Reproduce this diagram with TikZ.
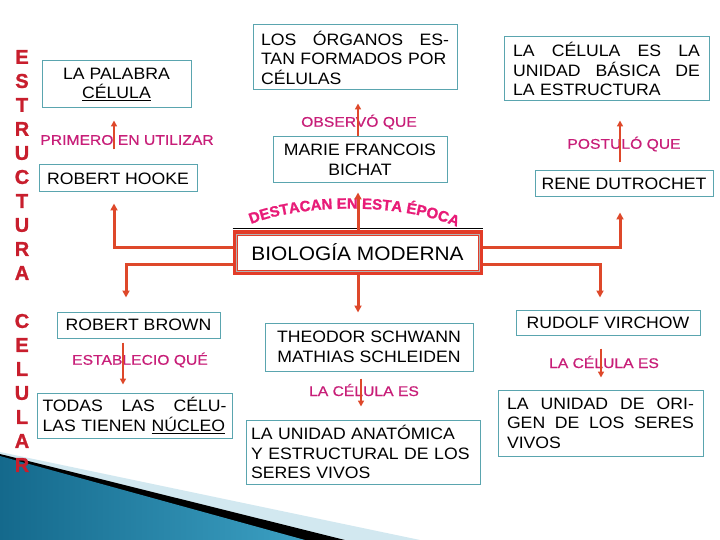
\documentclass[tikz,border=0pt]{standalone}
\usepackage{fontspec}
\setmainfont{Liberation Sans}
\newfontfamily\boxfont[FakeStretch=1.07]{Liberation Sans}
\newfontfamily\pinkfont[FakeStretch=1.12,FakeBold=0.5]{Liberation Sans}
\newfontfamily\destfont[FakeBold=1.2]{Liberation Sans}
\newfontfamily\letfont[FakeBold=1.2]{Liberation Sans}
\usetikzlibrary{arrows.meta,decorations.text,calc}
\definecolor{boxc}{RGB}{90,165,175}
\definecolor{arrc}{RGB}{222,72,42}
\definecolor{bioc}{RGB}{226,60,40}
\definecolor{pinkc}{RGB}{200,30,120}
\definecolor{destc}{RGB}{232,28,120}
\definecolor{letc}{RGB}{200,30,45}
\definecolor{tealA}{RGB}{20,105,140}
\definecolor{tealB}{RGB}{60,160,195}
\definecolor{swlight}{RGB}{210,232,240}
\newcommand\jline[2]{\makebox[#1][l]{#2}}
\begin{document}
\begin{tikzpicture}[x=1pt,y=-1pt,
  bx/.style={draw=boxc, line width=1pt, fill=white, inner sep=0pt,
    font=\boxfont\fontsize{16.5}{19.5}\selectfont},
  lab/.style={text=pinkc, inner sep=0pt, font=\pinkfont\fontsize{14}{16}\selectfont},
  letsty/.style={text=letc, inner sep=0pt, font=\letfont\bfseries\fontsize{20}{21}\selectfont},
  conn/.style={draw=arrc, line width=3pt, -{Triangle[length=7pt,width=7pt]}},
  arr/.style={draw=arrc, line width=2pt, -{Triangle[length=6pt,width=6pt]}}]
\useasboundingbox (0,0) rectangle (720,540);
\fill[white] (0,0) rectangle (720,540);
% bottom-left swoosh
\fill[swlight] (0,452) -- (420,540) -- (0,540) -- cycle;
\fill[black] (0,454) -- (345,540) -- (0,540) -- cycle;
\fill[left color=tealA, right color=tealB] (0,456) -- (305,540) -- (0,540) -- cycle;

% vertical title letters
\foreach \ch [count=\i from 0] in {E,S,T,R,U,C,T,U,R,A}
  \node[letsty] (la\i) at (22,{57+24*\i}) {\ch};
\foreach \ch [count=\i from 0] in {C,E,L,U,L,A,R}
  \node[letsty] (lb\i) at (22,{321+24*\i}) {\ch};

% boxes
\node[bx, minimum width=149pt, minimum height=47pt, align=center] (palabra) at (116.5,84.5) {LA PALABRA\\\underline{CÉLULA}};
\node[bx, minimum width=158pt, minimum height=27pt] (hooke) at (118,178.5) {ROBERT HOOKE};
\node[bx, minimum width=163pt, minimum height=26pt] (brown) at (138.5,325) {ROBERT BROWN};
\node[bx, minimum width=195pt, minimum height=45pt, text width=184pt, align=left] (todas) at (134.5,415.5)
  {\jline{184pt}{TODAS\hfill LAS\hfill CÉLU-}\\\jline{184pt}{LAS TIENEN \underline{NÚCLEO}}};
\node[bx, minimum width=204pt, minimum height=65pt, text width=188pt, align=left] (organos) at (355,57.5)
  {\jline{188pt}{LOS\hfill ÓRGANOS\hfill ES-}\\\jline{188pt}{TAN FORMADOS POR}\\CÉLULAS};
\node[bx, minimum width=174pt, minimum height=46pt, align=center] (bichat) at (360,160) {MARIE FRANCOIS\\BICHAT};
\node[bx, minimum width=205pt, minimum height=64pt, text width=187pt, align=left] (celbox) at (606.5,69)
  {\jline{187pt}{LA\hfill CÉLULA\hfill ES\hfill LA}\\\jline{187pt}{UNIDAD\hfill BÁSICA\hfill DE}\\LA ESTRUCTURA};
\node[bx, minimum width=178pt, minimum height=26pt] (rene) at (624,184) {RENE DUTROCHET};
\node[bx, minimum width=208pt, minimum height=48pt, align=center] (theodor) at (369,347) {THEODOR SCHWANN\\MATHIAS SCHLEIDEN};
\node[bx, minimum width=234pt, minimum height=64pt, text width=224pt, align=left] (anat) at (363,452)
  {LA UNIDAD ANATÓMICA\\Y ESTRUCTURAL DE LOS\\SERES VIVOS};
\node[bx, minimum width=184pt, minimum height=25pt] (virchow) at (608,322.5) {RUDOLF VIRCHOW};
\node[bx, minimum width=205pt, minimum height=66pt, text width=187pt, align=left] (origen) at (600.5,423)
  {\jline{187pt}{LA\hfill UNIDAD\hfill DE\hfill ORI-}\\\jline{187pt}{GEN\hfill DE\hfill LOS\hfill SERES}\\VIVOS};

% central box
\node[draw=bioc, line width=5pt, fill=white, minimum width=245pt, minimum height=39pt, inner sep=0pt,
  font=\boxfont\fontsize{19.5}{24}\selectfont] (bio) at (357.5,252.5) {BIOLOGÍA MODERNA};
\draw[gray!60, line width=0.8pt] ([shift={(3.5pt,3.5pt)}]bio.south west) rectangle ([shift={(-3.5pt,-3.5pt)}]bio.north east);
\draw[black, line width=1.2pt] ([yshift=2.2pt]bio.north west) -- ([yshift=2.2pt]bio.north east);

% labels
\node[lab] (l1) at (127,140) {PRIMERO EN UTILIZAR};
\node[lab] (l2) at (359,122) {OBSERVÓ QUE};
\node[lab] (l3) at (624,144) {POSTULÓ QUE};
\node[lab] (l4) at (140,360) {ESTABLECIO QUÉ};
\node[lab] (l5) at (364,390) {LA CÉLULA ES};
\node[lab] (l6) at (604,362) {LA CÉLULA ES};

% arched text
\path[decorate, decoration={text along path, text align=center, text color=destc,
  text={|\destfont\bfseries\fontsize{15}{17}\selectfont|DESTACAN EN ESTA ÉPOCA}}]
  (244,227) .. controls (298,202) and (408,202) .. (464,230);

% connectors from the central box
\draw[conn, shorten >=11pt] ([yshift=5.5pt]bio.west) -| ([xshift=-4pt]hooke.south);
\draw[conn, shorten >=14pt] ([yshift=-11.5pt]bio.west) -| ([xshift=-12.5pt]brown.north);
\draw[conn, shorten >=9pt] ([xshift=0.5pt]bio.north) -- ([xshift=-2pt]bichat.south);
\draw[conn, shorten >=10pt] ([xshift=0.5pt]bio.south) -- ([xshift=-11pt]theodor.north);
\draw[conn, shorten >=15pt] ([yshift=5.5pt]bio.east) -| ([xshift=-4pt]rene.south);
\draw[conn, shorten >=12pt] ([yshift=-11.5pt]bio.east) -| ([xshift=-8pt]virchow.north);

% small arrows
\draw[arr, shorten <=15pt, shorten >=12pt] ([xshift=-4pt]hooke.north) -- ([xshift=-2.5pt]palabra.south);
\draw[arr, shorten >=13pt] ([xshift=-2pt]bichat.north) -- ([xshift=3pt]organos.south);
\draw[arr, shorten <=8pt, shorten >=19pt] ([xshift=-4pt]rene.north) -- ([xshift=13.5pt]celbox.south);
\draw[arr, shorten <=4pt, shorten >=8pt] ([xshift=-15.5pt]brown.south) -- ([xshift=-11.5pt]todas.north);
\draw[arr, shorten <=7pt, shorten >=13pt] ([xshift=-8pt]theodor.south) -- ([xshift=-2pt]anat.north);
\draw[arr, shorten <=13pt, shorten >=12pt] ([xshift=-7pt]virchow.south) -- ([xshift=0.5pt]origen.north);
\end{tikzpicture}
\end{document}
